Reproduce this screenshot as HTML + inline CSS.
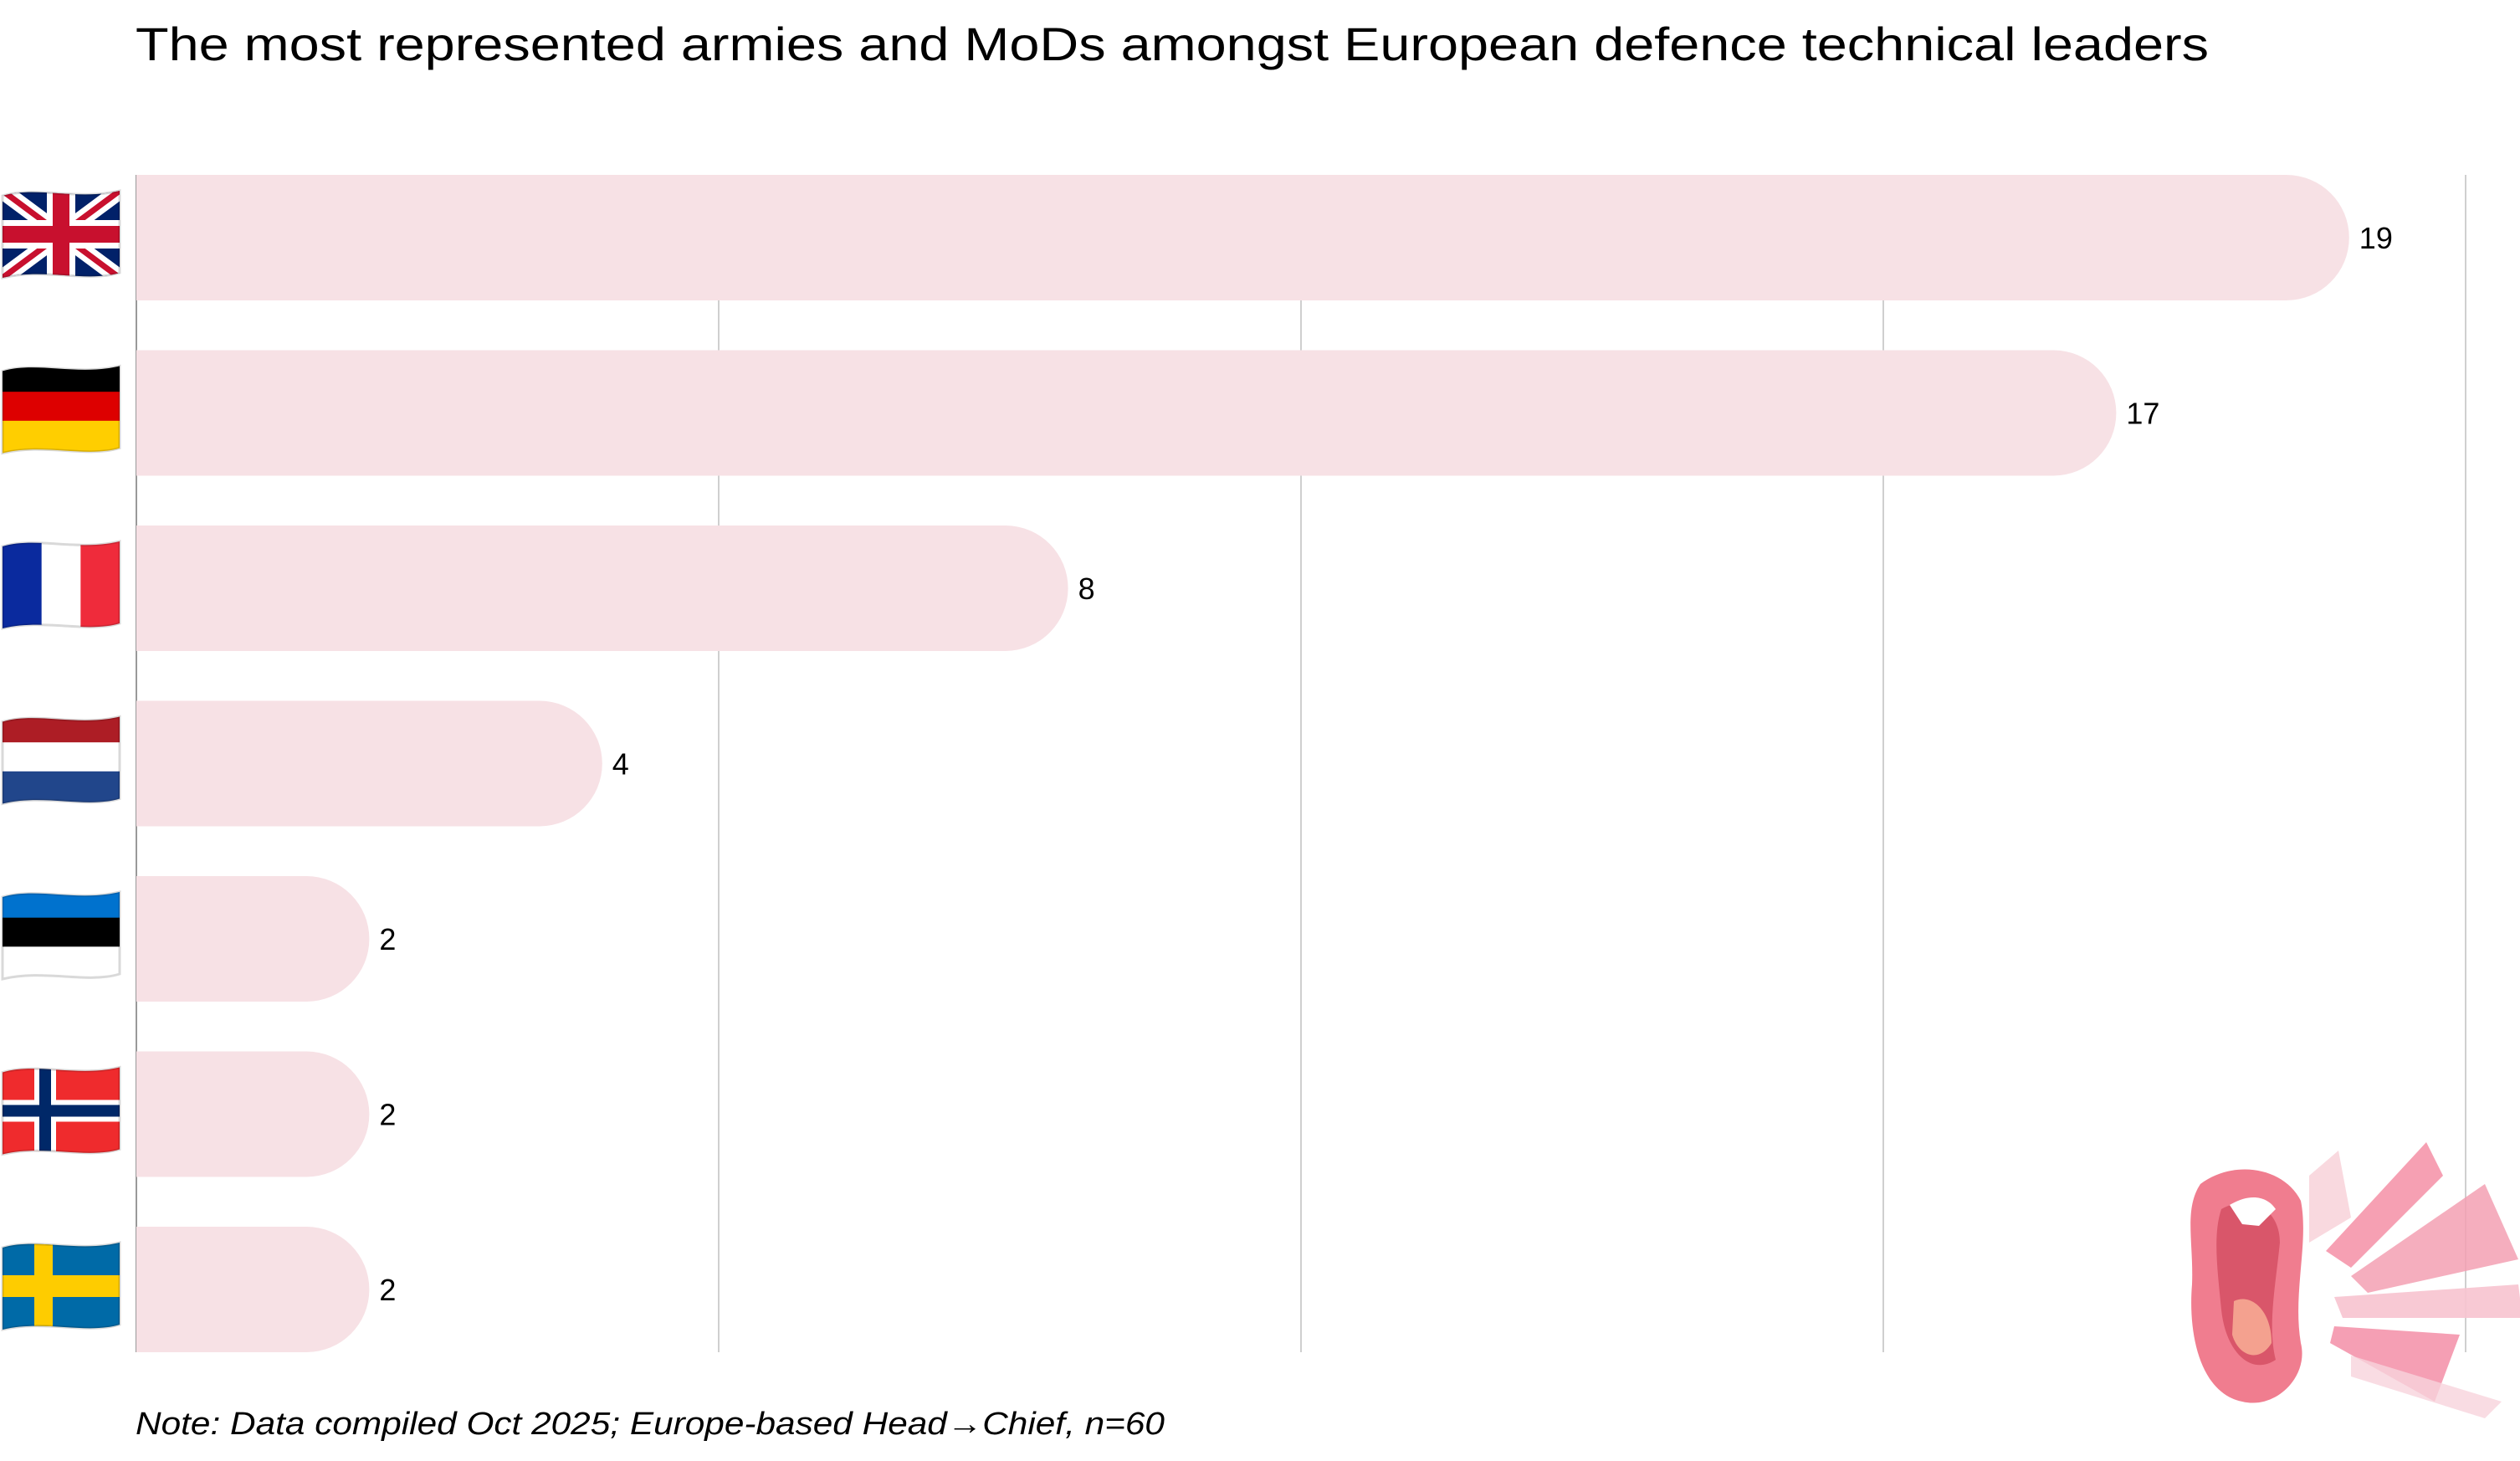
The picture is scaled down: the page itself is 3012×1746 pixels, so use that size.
<!DOCTYPE html>
<html><head><meta charset="utf-8"><style>
html,body{margin:0;padding:0;background:#fff;}
body{width:3012px;height:1741px;position:relative;overflow:hidden;font-family:"Liberation Sans",sans-serif;}
</style></head><body>
<svg id="chart" width="3012" height="1741" viewBox="0 0 3012 1741" xmlns="http://www.w3.org/2000/svg">
<text x="162" y="72" font-family="Liberation Sans, sans-serif" font-size="56" fill="#000" textLength="2478" lengthAdjust="spacingAndGlyphs">The most represented armies and MoDs amongst European defence technical leaders</text>
<g id="grid"></g>
<g id="bars"></g>
<g id="flags"></g>
<text x="162" y="1714" font-family="Liberation Sans, DejaVu Sans, sans-serif" font-size="38" font-style="italic" fill="#000" textLength="1230" lengthAdjust="spacingAndGlyphs">Note: Data compiled Oct 2025; Europe-based Head→Chief, n=60</text>
<g transform="translate(2610,1345)">
  <polygon points="150,60 185,30 200,110 150,140" fill="#f6c9d2" opacity="0.7"/>
  <polygon points="170,150 290,20 310,60 200,170" fill="#f48fa6" opacity="0.85"/>
  <polygon points="200,180 360,70 400,160 220,200" fill="#f3a0b3" opacity="0.85"/>
  <polygon points="180,205 400,190 405,230 190,230" fill="#f7c3cf" opacity="0.9"/>
  <polygon points="180,240 330,250 300,330 175,260" fill="#f38ea7" opacity="0.85"/>
  <polygon points="200,275 380,330 360,350 200,300" fill="#f8d3dc" opacity="0.8"/>
  <path d="M20,70 C60,40 120,50 140,90 C150,140 130,200 140,260 C150,300 110,340 70,330 C20,320 5,250 10,190 C12,140 0,100 20,70 Z" fill="#f07d8f"/>
  <path d="M45,100 C80,80 115,100 115,140 C110,190 100,240 110,280 C80,300 50,270 45,220 C40,170 35,130 45,100 Z" fill="#d9566a"/>
  <path d="M55,95 C80,80 100,85 110,100 L90,120 L70,118 Z" fill="#fff"/>
  <path d="M60,210 C80,200 105,220 105,260 C90,285 65,275 58,250 Z" fill="#f4a18f"/>
</g>
</svg>
<script>
const categories = ["United Kingdom","Germany","France","Netherlands","Estonia","Norway","Sweden"];
const values = [19,17,8,4,2,2,2];
const ticks = [0,5,10,15,20];

const NS = "http://www.w3.org/2000/svg";
const x0 = 163, xMax = 2947, vMax = 20;
const top0 = 209, pitch = 209.5, barH = 150;
const xScale = v => x0 + (v / vMax) * (xMax - x0);
const yBand = i => top0 + i * pitch;
const plotBottom = yBand(categories.length - 1) + barH;

const grid = document.getElementById('grid');
ticks.forEach(t => {
  const l = document.createElementNS(NS, 'line');
  
  
  l.setAttribute('x1', xScale(t)); l.setAttribute('x2', xScale(t));
  l.setAttribute('y1', top0); l.setAttribute('y2', plotBottom);
  l.setAttribute('stroke', t === 0 ? '#999' : '#cfcfcf');
  l.setAttribute('stroke-width', 2);
  grid.appendChild(l);
});

const bars = document.getElementById('bars');
values.forEach((v, i) => {
  const y = yBand(i), x1 = xScale(v), r = barH / 2;
  const w = x1 - x0;
  const rr = Math.min(r, w);
  const p = document.createElementNS(NS, 'path');
  
  
  p.setAttribute('d', `M${x0},${y} H${x1 - rr} A${rr},${r} 0 0 1 ${x1 - rr},${y + barH} H${x0} Z`);
  p.setAttribute('fill', '#f7e1e5');
  bars.appendChild(p);
  const t = document.createElementNS(NS, 'text');
  
  
  t.setAttribute('x', x1 + 12); t.setAttribute('y', y + r + 13);
  t.setAttribute('font-size', '36'); t.setAttribute('font-family', 'Liberation Sans, sans-serif');
  t.textContent = v;
  bars.appendChild(t);
});

const flagDefs = [
  {type:'uk'},
  {type:'h', cols:['#000','#dd0000','#ffce00']},
  {type:'v', cols:['#0a2a9e','#ffffff','#ef2b3b']},
  {type:'h', cols:['#ad1d25','#ffffff','#21468b']},
  {type:'h', cols:['#0072ce','#000','#ffffff']},
  {type:'nordic', bg:'#ef2b2d', c1:'#fff', c2:'#002868'},
  {type:'nordic', bg:'#006aa7', c1:'#fecc00', c2:null}
];
const flags = document.getElementById('flags');
flagDefs.forEach((f, i) => {
  const cy = yBand(i) + barH / 2 - 4;
  const g = document.createElementNS(NS, 'g');
  
  
  g.setAttribute('transform', `translate(3,${cy - 52})`);
  const W = 140, H = 104;
  const shape = "M0,6 C40,-6 90,12 140,0 V98 C100,110 50,92 0,104 Z";
  let s = `<defs><clipPath id="fc${i}"><path d="${shape}"/></clipPath></defs><g clip-path="url(#fc${i})">`;
  if (f.type === 'h') f.cols.forEach((c, k) => { s += `<rect x="0" y="${k*H/3 - 4}" width="${W}" height="${H/3 + 8}" fill="${c}"/>`; });
  else if (f.type === 'v') f.cols.forEach((c, k) => { s += `<rect x="${k*W/3}" y="-5" width="${W/3 + 1}" height="${H+10}" fill="${c}"/>`; });
  else if (f.type === 'nordic') {
    s += `<rect x="0" y="-5" width="${W}" height="${H+10}" fill="${f.bg}"/>`;
    s += `<rect x="38" y="-5" width="${f.c2?26:22}" height="${H+10}" fill="${f.c1}"/><rect x="0" y="${H/2-13}" width="${W}" height="26" fill="${f.c1}"/>`;
    if (f.c2) s += `<rect x="44" y="-5" width="14" height="${H+10}" fill="${f.c2}"/><rect x="0" y="${H/2-7}" width="${W}" height="14" fill="${f.c2}"/>`;
  } else {
    s += `<rect x="0" y="-5" width="${W}" height="${H+10}" fill="#012169"/>`;
    s += `<path d="M0,0 L${W},${H} M${W},0 L0,${H}" stroke="#fff" stroke-width="20"/>`;
    s += `<path d="M0,0 L${W},${H} M${W},0 L0,${H}" stroke="#c8102e" stroke-width="7"/>`;
    s += `<rect x="${W/2-17}" y="-5" width="34" height="${H+10}" fill="#fff"/><rect x="0" y="${H/2-17}" width="${W}" height="34" fill="#fff"/>`;
    s += `<rect x="${W/2-10}" y="-5" width="20" height="${H+10}" fill="#c8102e"/><rect x="0" y="${H/2-10}" width="${W}" height="20" fill="#c8102e"/>`;
  }
  s += `</g><path d="${shape}" fill="none" stroke="rgba(0,0,0,0.15)" stroke-width="3"/>`;
  g.innerHTML = s;
  flags.appendChild(g);
});
</script>
</body></html>
